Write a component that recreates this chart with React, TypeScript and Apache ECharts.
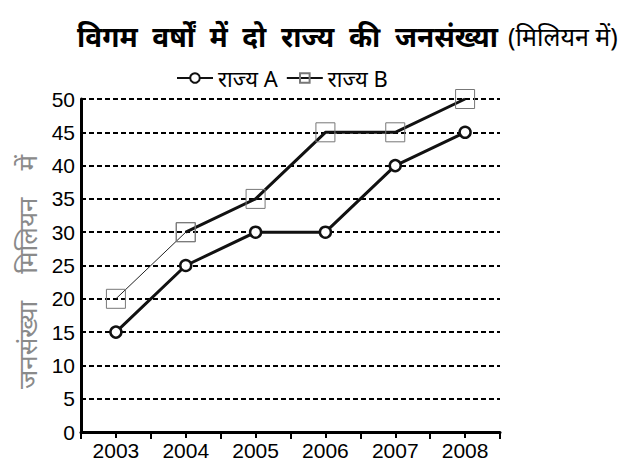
import React, { useEffect, useRef } from "react";
import * as echarts from "echarts";

const years = ["2003", "2004", "2005", "2006", "2007", "2008"];
const stateA = [15, 25, 30, 30, 40, 45];
const stateB = [20, 30, 35, 45, 45, 50];
const nameA = "राज्य A";
const nameB = "राज्य B";
const titleBold = "विगम  वर्षों  में  दो  राज्य  की  जनसंख्या";
const titleNormal = "(मिलियन में)";
const yName = "जनसंख्या    मिलियन    में";

const numFont = "'Liberation Sans Narrow', 'Liberation Sans', Arial, sans-serif";
const hiFont = "'Noto Sans', 'Liberation Sans', sans-serif";

export default function App() {
  const ref = useRef<HTMLDivElement>(null);
  useEffect(() => {
    if (!ref.current) return;
    const chart = echarts.init(ref.current, null, { renderer: "svg" });
    const bFirst = stateB.map((v, i) => (i <= 1 ? v : null));
    const bRest = stateB.map((v, i) => (i >= 1 ? v : null));
    chart.setOption({
      animation: false,
      backgroundColor: "#ffffff",
      title: {
        text: `{b|${titleBold}}  {n|${titleNormal}}`,
        left: 64,
        top: 9,
        textStyle: {
          rich: {
            b: { fontFamily: hiFont, fontSize: 28, fontWeight: "bold", color: "#000" },
            n: { fontFamily: hiFont, fontSize: 25, fontWeight: "normal", color: "#000" },
          },
        },
      },
      legend: {
        data: [nameA, nameB],
        left: 163,
        top: 54,
        itemGap: 8,
        itemWidth: 36,
        itemHeight: 12,
        textStyle: { fontFamily: hiFont, fontSize: 22, color: "#000" },
      },
      graphic: [
        {
          type: "text",
          x: 19,
          y: 264,
          rotation: Math.PI / 2,
          style: {
            text: yName,
            fontFamily: hiFont,
            fontSize: 26,
            fill: "#8a8a8a",
            align: "center",
            verticalAlign: "middle",
          },
        },
      ],
      grid: { left: 73, top: 91, width: 419, height: 333, containLabel: false },
      xAxis: [
        {
          type: "category",
          data: years,
          boundaryGap: true,
          axisLine: { show: true, lineStyle: { color: "#000", width: 3 } },
          axisTick: { show: true, alignWithLabel: true, length: 6, lineStyle: { color: "#000", width: 2 } },
          axisLabel: { fontFamily: numFont, fontSize: 21, color: "#000", margin: 8 },
          splitLine: { show: false },
        },
        {
          type: "category",
          data: years,
          position: "bottom",
          boundaryGap: true,
          axisLine: { show: false },
          axisTick: { show: true, length: 7, lineStyle: { color: "#000", width: 2 } },
          axisLabel: { show: false },
          splitLine: { show: false },
        },
      ],
      yAxis: {
        type: "value",
        min: 0,
        max: 50,
        interval: 5,
        axisLine: { show: true, lineStyle: { color: "#000", width: 3 } },
        axisTick: { show: false },
        axisLabel: { fontFamily: numFont, fontSize: 21, color: "#000", margin: 6 },
        splitLine: { show: true, lineStyle: { color: "#000", width: 2, type: [5, 3] } },
      },
      series: [
        {
          name: nameB,
          type: "line",
          data: bRest,
          symbol: "rect",
          symbolSize: 19,
          lineStyle: { color: "#111", width: 3 },
          itemStyle: { color: "rgba(255,255,255,0)", borderColor: "#777", borderWidth: 1 },
          z: 3,
        },
        {
          name: "B-first",
          type: "line",
          data: bFirst,
          symbol: "rect",
          symbolSize: 19,
          lineStyle: { color: "#222", width: 1 },
          itemStyle: { color: "rgba(255,255,255,0)", borderColor: "#777", borderWidth: 1 },
          z: 3,
        },
        {
          name: nameA,
          type: "line",
          data: stateA,
          symbol: "circle",
          symbolSize: 11,
          lineStyle: { color: "#111", width: 3 },
          itemStyle: { color: "#fff", borderColor: "#111", borderWidth: 2.5 },
          z: 4,
        },
      ],
    });
    return () => chart.dispose();
  }, []);
  return <div ref={ref} style={{ width: 628, height: 454 }} />;
}
